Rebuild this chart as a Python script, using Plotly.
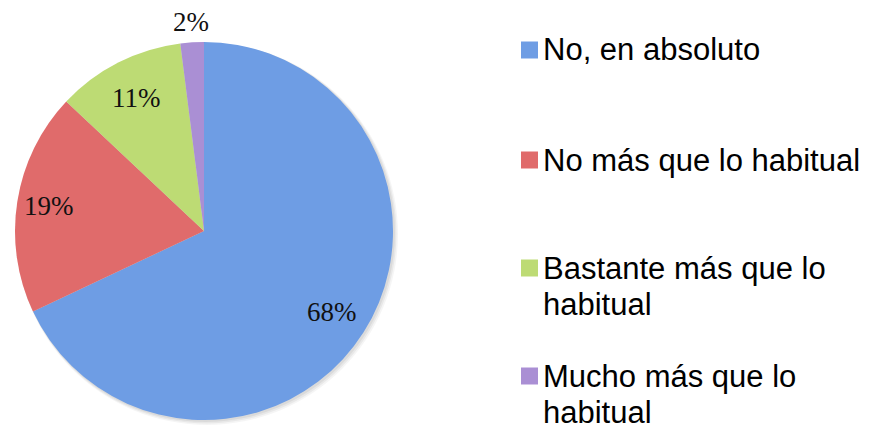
import math
import textwrap
import plotly.graph_objects as go

# Survey answers and their shares (percent)
categories = [
    "No, en absoluto",
    "No más que lo habitual",
    "Bastante más que lo habitual",
    "Mucho más que lo habitual",
]
shares = [68, 19, 11, 2]
slice_colors = ["#6E9DE4", "#E06B6B", "#BDDB74", "#AA8FD4"]

W, H = 881, 430
CX, CY, R = 204, 231, 189          # pie centre and radius in pixels
label_radius = [0.80, 0.83, 0.79, 1.11]   # label distance as fraction of R


def px(x):
    return x / W


def py(y):
    return 1 - y / H


fig = go.Figure()

fig.add_trace(go.Pie(
    labels=categories,
    values=shares,
    sort=False,
    direction="clockwise",
    rotation=0,
    marker=dict(colors=slice_colors, line=dict(width=0)),
    textinfo="none",
    hoverinfo="label+percent",
    showlegend=False,
    domain=dict(x=[px(CX - R), px(CX + R)], y=[py(CY + R), py(CY - R)]),
))

# percentage labels placed on each slice's bisector
annotations = []
total = sum(shares)
cum = 0
for val, rf in zip(shares, label_radius):
    mid = (cum + val / 2) / total * 2 * math.pi
    cum += val
    lx = CX + math.sin(mid) * R * rf
    ly = CY - math.cos(mid) * R * rf
    annotations.append(dict(
        x=px(lx), y=py(ly), xref="paper", yref="paper",
        text=f"{val}%", showarrow=False,
        xanchor="center", yanchor="middle",
        font=dict(family="Liberation Serif", size=27, color="#111111"),
    ))

# soft drop shadow behind the pie
shapes = []
for grow, alpha in [(5, 0.04), (3.5, 0.05), (2, 0.06)]:
    shapes.append(dict(
        type="circle", xref="paper", yref="paper", layer="below",
        x0=px(CX - R + 1), x1=px(CX + R + grow), y0=py(CY + R + grow), y1=py(CY - R + 1),
        fillcolor=f"rgba(0,0,0,{alpha})", line=dict(width=0),
    ))

# legend drawn as swatches + wrapped labels, one annotation per line
legend_first_line = [50, 160, 268, 376]
line_h = 36
for name, col, y0 in zip(categories, slice_colors, legend_first_line):
    shapes.append(dict(
        type="rect", xref="paper", yref="paper",
        x0=px(521), x1=px(538), y0=py(y0 + 8.5), y1=py(y0 - 8.5),
        fillcolor=col, line=dict(width=0),
    ))
    for i, line in enumerate(textwrap.wrap(name, 22)):
        annotations.append(dict(
            x=px(542), y=py(y0 + i * line_h), xref="paper", yref="paper",
            text=line, showarrow=False, align="left",
            xanchor="left", yanchor="middle", borderpad=0,
            font=dict(family="Liberation Sans", size=31, color="#000000"),
        ))

fig.update_layout(
    width=W, height=H,
    margin=dict(l=0, r=0, t=0, b=0),
    paper_bgcolor="white", plot_bgcolor="white",
    annotations=annotations,
    shapes=shapes,
)

fig.write_html("out.html")
